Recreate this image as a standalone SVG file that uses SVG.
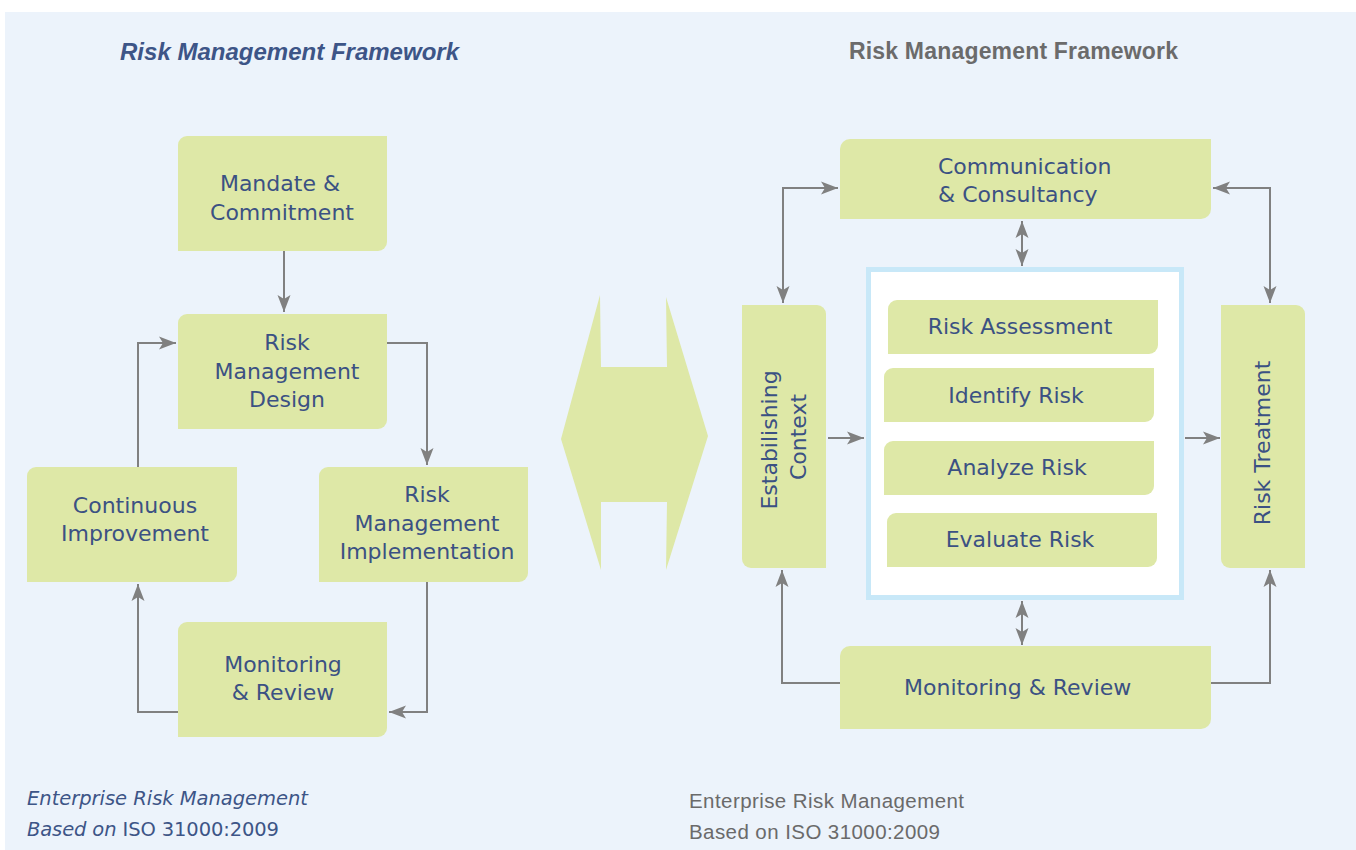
<svg xmlns="http://www.w3.org/2000/svg" width="1356" height="850" viewBox="0 0 1356 850">
<defs>
<style>
.box{fill:#DEE8A7}
.lbl{font-family:"DejaVu Sans",sans-serif;font-size:22px;fill:#3B5183;text-anchor:middle}
.lbls{font-family:"DejaVu Sans",sans-serif;font-size:22px;fill:#3B5183}
.conn{fill:none;stroke:#808080;stroke-width:2}
</style>
<marker id="ah" markerUnits="userSpaceOnUse" markerWidth="18" markerHeight="14" refX="17" refY="7" orient="auto-start-reverse">
<path d="M0,0.5 L17,7 L0,13.5 L4,7 Z" fill="#808080"/>
</marker>
</defs>
<rect x="0" y="0" width="1356" height="850" fill="#FFFFFF"/>
<rect x="5" y="12" width="1351" height="838" fill="#ECF3FB"/>

<g id="titles">
<text x="120" y="60" font-family="Liberation Sans, Arial, sans-serif" font-size="24" font-weight="bold" font-style="italic" fill="#3D5587" textLength="339">Risk Management Framework</text>
<text x="849" y="59" font-family="Liberation Sans, Arial, sans-serif" font-size="23" font-weight="bold" fill="#6B6B6B" textLength="329">Risk Management Framework</text>
</g>

<g id="bigArrow">
<polygon class="box" points="600,295 601,367 667,367 666,297 708,436 666,570 667,502 601,502 601,570 561,439"/>
</g>

<g id="connectors">
<path class="conn" d="M284,251 V312" marker-end="url(#ah)"/>
<path class="conn" d="M387,343 H427 V465" marker-end="url(#ah)"/>
<path class="conn" d="M427,582 V712 H389" marker-end="url(#ah)"/>
<path class="conn" d="M178,712 H138 V584" marker-end="url(#ah)"/>
<path class="conn" d="M138,467 V343 H176" marker-end="url(#ah)"/>
<path class="conn" d="M838,188 H783 V303" marker-start="url(#ah)" marker-end="url(#ah)"/>
<path class="conn" d="M1213,188 H1270 V303" marker-start="url(#ah)" marker-end="url(#ah)"/>
<path class="conn" d="M1022,221 V266" marker-start="url(#ah)" marker-end="url(#ah)"/>
<path class="conn" d="M828,438 H864" marker-end="url(#ah)"/>
<path class="conn" d="M1185,438 H1220" marker-end="url(#ah)"/>
<path class="conn" d="M1022,601 V645" marker-start="url(#ah)" marker-end="url(#ah)"/>
<path class="conn" d="M840,683 H782 V570" marker-end="url(#ah)"/>
<path class="conn" d="M1211,683 H1270 V570" marker-end="url(#ah)"/>
</g>

<g id="mandate">
<path class="box" d="M187,136 H387 V242 A9,9 0 0 1 378,251 H178 V145 A9,9 0 0 1 187,136 Z"/>
<text class="lbl" x="280" y="191">Mandate &amp;</text>
<text class="lbl" x="282" y="220">Commitment</text>
</g>

<g id="design">
<path class="box" d="M187,314 H387 V420 A9,9 0 0 1 378,429 H178 V323 A9,9 0 0 1 187,314 Z"/>
<text class="lbl" x="287" y="350">Risk</text>
<text class="lbl" x="287" y="379">Management</text>
<text class="lbl" x="287" y="407">Design</text>
</g>

<g id="implementation">
<path class="box" d="M328,467 H528 V573 A9,9 0 0 1 519,582 H319 V476 A9,9 0 0 1 328,467 Z"/>
<text class="lbl" x="427" y="502">Risk</text>
<text class="lbl" x="427" y="531">Management</text>
<text class="lbl" x="427" y="559">Implementation</text>
</g>

<g id="continuous">
<path class="box" d="M36,467 H237 V573 A9,9 0 0 1 228,582 H27 V476 A9,9 0 0 1 36,467 Z"/>
<text class="lbl" x="135" y="513">Continuous</text>
<text class="lbl" x="135" y="541">Improvement</text>
</g>

<g id="monitoringLeft">
<path class="box" d="M187,622 H387 V728 A9,9 0 0 1 378,737 H178 V631 A9,9 0 0 1 187,622 Z"/>
<text class="lbl" x="283" y="672">Monitoring</text>
<text class="lbl" x="283" y="700">&amp; Review</text>
</g>

<g id="communication">
<path class="box" d="M850,139 H1211 V209 A10,10 0 0 1 1201,219 H840 V149 A10,10 0 0 1 850,139 Z"/>
<text class="lbls" x="938" y="174">Communication</text>
<text class="lbls" x="938" y="202">&amp; Consultancy</text>
</g>

<g id="assessmentFrame">
<rect x="868.5" y="269.5" width="313" height="328" fill="#FFFFFF" stroke="#C8E8F8" stroke-width="5"/>
</g>

<g id="riskAssessment">
<path class="box" d="M897,300 H1158 V345 A9,9 0 0 1 1149,354 H888 V309 A9,9 0 0 1 897,300 Z"/>
<text class="lbl" x="1020" y="334">Risk Assessment</text>
</g>

<g id="identifyRisk">
<path class="box" d="M893,368 H1154 V413 A9,9 0 0 1 1145,422 H884 V377 A9,9 0 0 1 893,368 Z"/>
<text class="lbl" x="1016" y="403">Identify Risk</text>
</g>

<g id="analyzeRisk">
<path class="box" d="M893,441 H1154 V486 A9,9 0 0 1 1145,495 H884 V450 A9,9 0 0 1 893,441 Z"/>
<text class="lbl" x="1017" y="475">Analyze Risk</text>
</g>

<g id="evaluateRisk">
<path class="box" d="M896,513 H1157 V558 A9,9 0 0 1 1148,567 H887 V522 A9,9 0 0 1 896,513 Z"/>
<text class="lbl" x="1020" y="547">Evaluate Risk</text>
</g>

<g id="establishingContext">
<path class="box" d="M742,305 H817 A9,9 0 0 1 826,314 V568 H751 A9,9 0 0 1 742,559 Z"/>
<g transform="translate(777,440) rotate(-90)">
<text class="lbl" x="0" y="0">Estabilishing</text>
<text class="lbl" x="3" y="29">Context</text>
</g>
</g>

<g id="riskTreatment">
<path class="box" d="M1221,305 H1296 A9,9 0 0 1 1305,314 V568 H1230 A9,9 0 0 1 1221,559 Z"/>
<g transform="translate(1270,443) rotate(-90)">
<text class="lbl" x="0" y="0">Risk Treatment</text>
</g>
</g>

<g id="monitoringRight">
<path class="box" d="M850,646 H1211 V719 A10,10 0 0 1 1201,729 H840 V656 A10,10 0 0 1 850,646 Z"/>
<text class="lbls" x="904" y="695">Monitoring &amp; Review</text>
</g>

<g id="footers">
<text x="27" y="805" font-family="DejaVu Sans, sans-serif" font-size="19.5" font-style="italic" fill="#3D5587" textLength="281">Enterprise Risk Management</text>
<text x="27" y="836" font-family="DejaVu Sans, sans-serif" font-size="19.5" fill="#3D5587" textLength="252"><tspan font-style="italic">Based on </tspan><tspan>ISO 31000:2009</tspan></text>
<text x="689" y="808" font-family="Liberation Sans, Arial, sans-serif" font-size="20.5" fill="#6A6A6A" textLength="275">Enterprise Risk Management</text>
<text x="689" y="839" font-family="Liberation Sans, Arial, sans-serif" font-size="20.5" fill="#6A6A6A" textLength="251">Based on ISO 31000:2009</text>
</g>
</svg>
